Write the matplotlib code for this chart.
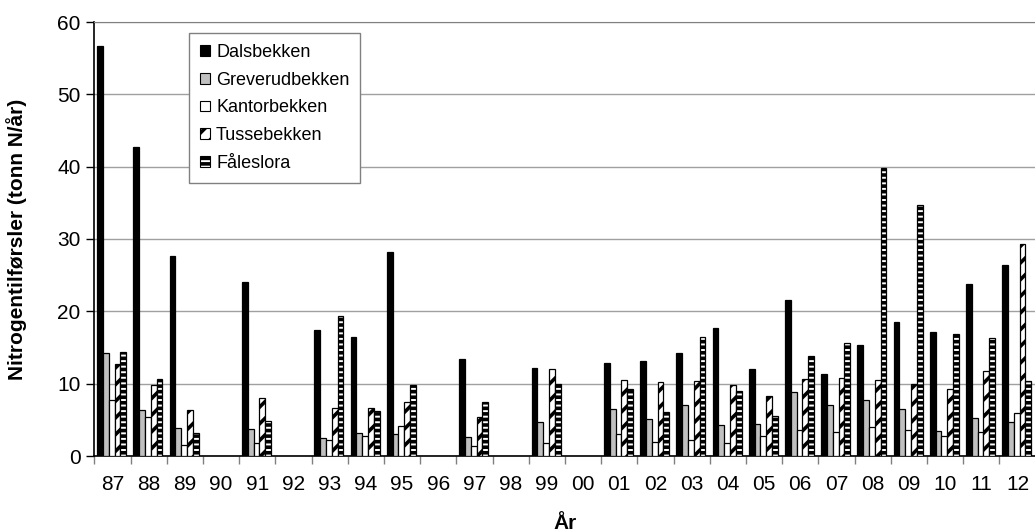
import numpy as np
import matplotlib.pyplot as plt

nan = np.nan

# Data (tonn N/år)
years = ['87', '88', '89', '90', '91', '92', '93', '94', '95', '96', '97', '98', '99',
         '00', '01', '02', '03', '04', '05', '06', '07', '08', '09', '10', '11', '12']
dalsbekken = [56.7, 42.7, 27.6, nan, 24.0, nan, 17.4, 16.4, 28.2, nan, 13.4, nan, 12.1,
              nan, 12.9, 13.1, 14.2, 17.7, 12.0, 21.5, 11.4, 15.3, 18.5, 17.1, 23.8, 26.4]
greverudbekken = [14.2, 6.3, 3.9, nan, 3.7, nan, 2.5, 3.2, 3.1, nan, 2.6, nan, 4.7,
                  nan, 6.5, 5.1, 7.1, 4.3, 4.4, 8.9, 7.0, 7.7, 6.5, 3.5, 5.2, 4.7]
kantorbekken = [7.7, 5.4, 1.5, nan, 1.8, nan, 2.2, 2.8, 4.1, nan, 1.4, nan, 1.8,
                nan, 3.0, 1.9, 2.2, 1.8, 2.7, 3.6, 3.3, 4.0, 3.6, 2.7, 3.3, 5.9]
tussebekken = [12.7, 9.8, 6.4, nan, 8.0, nan, 6.6, 6.7, 7.4, nan, 5.4, nan, 12.0,
               nan, 10.5, 10.2, 10.4, 9.8, 8.3, 10.6, 10.8, 10.5, 10.0, 9.3, 11.7, 29.3]
faleslora = [14.4, 10.6, 3.2, nan, 4.9, nan, 19.4, 6.2, 9.8, nan, 7.5, nan, 10.0,
             nan, 9.3, 6.1, 16.5, 9.0, 5.5, 13.8, 15.6, 39.8, 34.7, 16.8, 16.3, 10.4]

plt.rcParams['font.family'] = ['Liberation Sans', 'DejaVu Sans']
plt.rcParams['hatch.linewidth'] = 2.6

fig = plt.figure(figsize=(10.35, 5.32), dpi=100)
ax = fig.add_axes([94.4 / 1035, 1 - 456 / 532, 941.2 / 1035, 434 / 532])

x = np.arange(len(years))
width = 0.16

# (label, values, facecolor, hatch)
series = [
    ('Dalsbekken', dalsbekken, 'black', None),
    ('Greverudbekken', greverudbekken, '#c0c0c0', None),
    ('Kantorbekken', kantorbekken, 'white', None),
    ('Tussebekken', tussebekken, 'white', '//'),
    ('Fåleslora', faleslora, 'white', '---'),
]

for i, (label, vals, fc, hatch) in enumerate(series):
    ax.bar(x + (i - 2) * width - 0.02, vals, width, color=fc, edgecolor='black',
           linewidth=0.9, hatch=hatch, label=label, zorder=3)

ax.set_xlim(-0.5, len(years) - 0.5)
ax.set_ylim(0, 60)
ax.set_yticks(range(0, 61, 10))
ax.yaxis.grid(True, color='#a0a0a0', linewidth=1.0, zorder=0)
ax.set_axisbelow(True)

# category boundaries get tick marks, labels sit at centres
ax.set_xticks(np.arange(-0.5, len(years), 1.0))
ax.set_xticklabels([])
ax.set_xticks(x, minor=True)
ax.set_xticklabels(years, minor=True)
ax.tick_params(axis='x', which='major', length=6, color='#808080', width=1)
ax.tick_params(axis='x', which='minor', length=0, pad=14, labelsize=15)
ax.tick_params(axis='y', length=6, width=1, color='black', labelsize=15, pad=4)

for side in ['left', 'bottom']:
    ax.spines[side].set_color('black')
    ax.spines[side].set_linewidth(1.2)
ax.spines['top'].set_color('#808080')
ax.spines['right'].set_visible(False)

ax.set_ylabel('Nitrogentilførsler (tonn N/år)', fontsize=15, fontweight='bold', labelpad=22)
ax.set_xlabel('År', fontsize=15, fontweight='bold', labelpad=14)

leg = ax.legend(loc='upper left', bbox_to_anchor=(0.1005, 0.975), fontsize=13,
                frameon=True, fancybox=False, framealpha=1, edgecolor='#808080',
                handlelength=0.55, handleheight=0.55, handletextpad=0.35,
                labelspacing=0.6, borderpad=0.6, borderaxespad=0)
leg.get_frame().set_linewidth(1.0)
for p in leg.get_patches():
    p.set_linewidth(0.8)

fig.savefig('out.png', dpi=100)
